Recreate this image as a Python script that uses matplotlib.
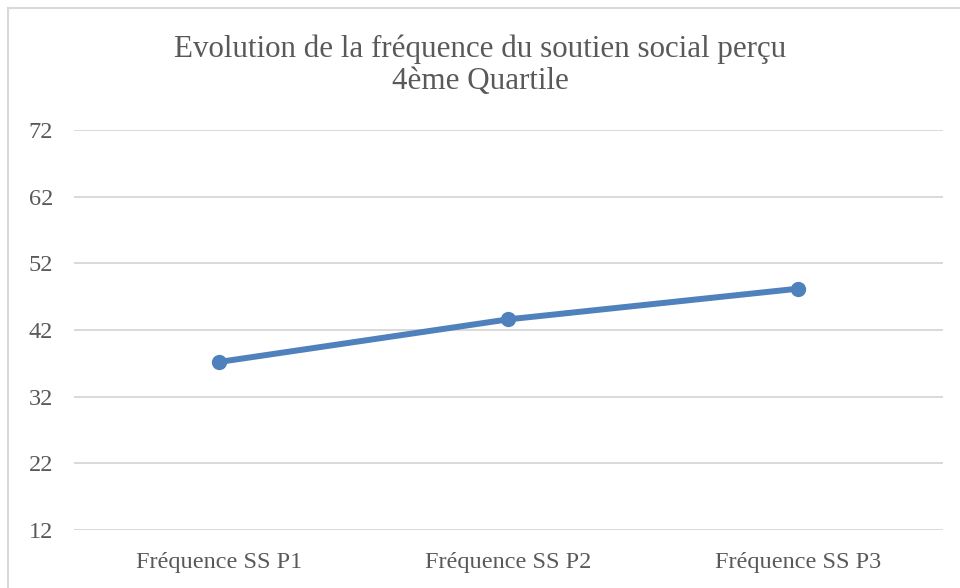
import matplotlib
matplotlib.use("Agg")
import matplotlib.pyplot as plt
from matplotlib.lines import Line2D

# data
categories = ["Fréquence SS P1", "Fréquence SS P2", "Fréquence SS P3"]
frequence = [37.2, 43.6, 48.2]
y_ticks = [12, 22, 32, 42, 52, 62, 72]

title_lines = ["Evolution de la fréquence du soutien social perçu", "4ème Quartile"]

line_color = "#4F81BD"
text_color = "#595959"
grid_color = "#D9D9D9"

plt.rcParams["font.family"] = ["Liberation Serif", "DejaVu Serif"]

W, H = 960, 588
fig = plt.figure(figsize=(W / 100, H / 100), dpi=100)
ax = fig.add_axes([74 / W, (H - 530) / H, (943 - 74) / W, 400 / H])

x = list(range(len(categories)))
ax.plot(x, frequence, color=line_color, lw=4.3, marker="o", ms=10,
        solid_capstyle="round", zorder=3)

ax.set_xlim(-0.5, len(categories) - 0.5)
ax.set_ylim(y_ticks[0], y_ticks[-1])
ax.set_yticks(y_ticks)
ax.set_xticks(x)
ax.set_xticklabels(categories)
ax.grid(axis="y", color=grid_color, lw=1.4)
ax.set_axisbelow(True)
for s in ax.spines.values():
    s.set_visible(False)
ax.tick_params(length=0, colors=text_color, labelsize=17.5)
ax.tick_params(axis="y", pad=15)
ax.tick_params(axis="x", pad=15.5)

for line, ypix in zip(title_lines, [49, 82]):
    fig.text(0.5, 1 - ypix / H, line, ha="center", va="center", fontsize=22.3,
             color=text_color)

# chart area border (top and left edges visible in the crop)
fig.add_artist(Line2D([8 / W, 1], [1 - 7.5 / H] * 2, transform=fig.transFigure,
                      color=grid_color, lw=1.5))
fig.add_artist(Line2D([8 / W] * 2, [0, 1 - 7.5 / H], transform=fig.transFigure,
                      color=grid_color, lw=1.5))

fig.savefig("out.png", dpi=100, facecolor="white")
